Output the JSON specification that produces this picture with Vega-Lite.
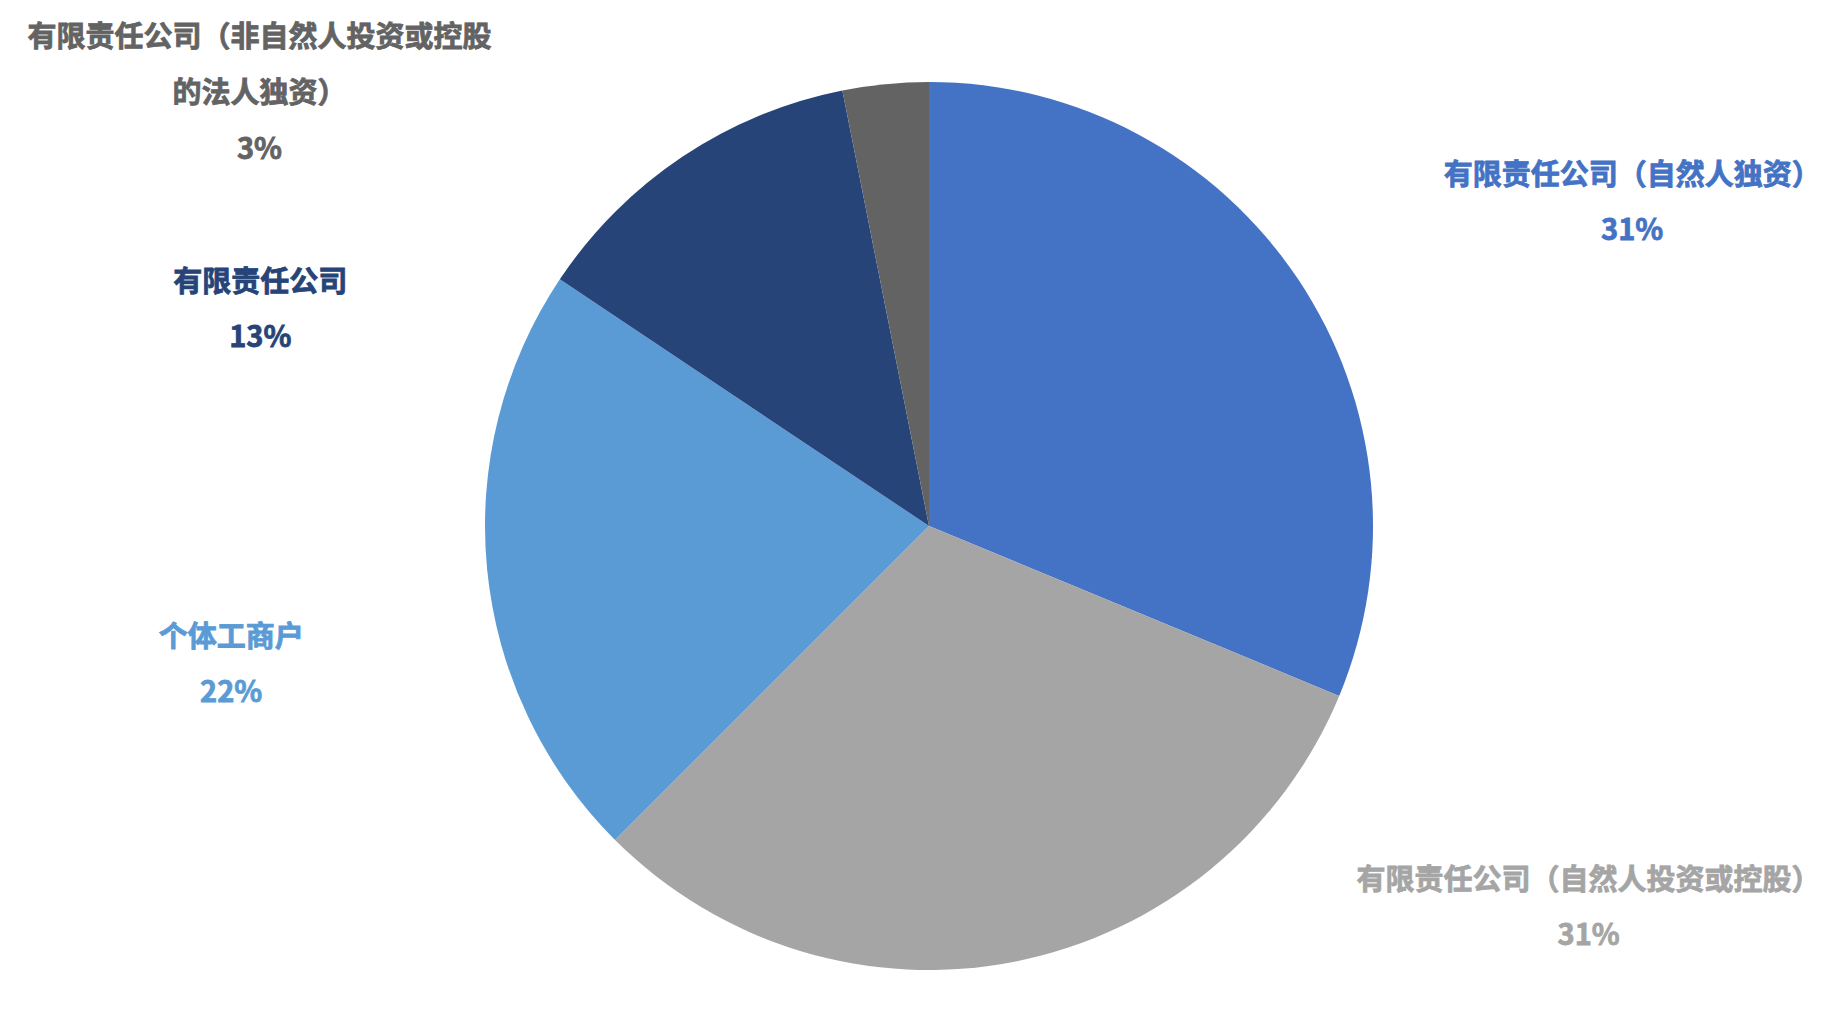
{
  "$schema": "https://vega.github.io/schema/vega-lite/v6.json",
  "width": 1806,
  "height": 980,
  "autosize": "none",
  "padding": {"left": 26, "top": 36, "right": 0, "bottom": 0},
  "background": "white",
  "config": {
    "view": {"stroke": null},
    "text": {"font": "Noto Sans CJK SC", "fontSize": 29, "fontWeight": "bold", "strokeWidth": 0.8}
  },
  "data": {
    "values": [
      {"seq": 1, "type": "有限责任公司（自然人独资）", "count": 10, "label": "有限责任公司（自然人独资）\n31%"},
      {"seq": 2, "type": "有限责任公司（自然人投资或控股）", "count": 10, "label": "有限责任公司（自然人投资或控股）\n31%"},
      {"seq": 3, "type": "个体工商户", "count": 7, "label": "个体工商户\n22%"},
      {"seq": 4, "type": "有限责任公司", "count": 4, "label": "有限责任公司\n13%"},
      {"seq": 5, "type": "有限责任公司（非自然人投资或控股的法人独资）", "count": 1, "label": "有限责任公司（非自然人投资或控股\n的法人独资）\n3%"}
    ]
  },
  "encoding": {
    "theta": {"field": "count", "type": "quantitative", "stack": true},
    "order": {"field": "seq", "type": "quantitative"},
    "color": {
      "field": "type",
      "type": "nominal",
      "legend": null,
      "scale": {
        "domain": [
          "有限责任公司（自然人独资）",
          "有限责任公司（自然人投资或控股）",
          "个体工商户",
          "有限责任公司",
          "有限责任公司（非自然人投资或控股的法人独资）"
        ],
        "range": ["#4472C4", "#A5A5A5", "#5B9BD5", "#264478", "#636363"]
      }
    }
  },
  "layer": [
    {"mark": {"type": "arc", "outerRadius": 444}},
    {
      "mark": {"type": "text", "radius": 444, "dx": 334, "dy": -103, "align": "center", "baseline": "middle", "lineBreak": "\n", "lineHeight": 55},
      "encoding": {
        "text": {"condition": {"test": "datum.seq == 1", "field": "label"}, "value": ""},
        "stroke": {"value": "#4472C4"}
      }
    },
    {
      "mark": {"type": "text", "radius": 444, "dx": 573, "dy": -80, "align": "center", "baseline": "middle", "lineBreak": "\n", "lineHeight": 55},
      "encoding": {
        "text": {"condition": {"test": "datum.seq == 2", "field": "label"}, "value": ""},
        "stroke": {"value": "#A5A5A5"}
      }
    },
    {
      "mark": {"type": "text", "radius": 444, "dx": -256, "dy": 68, "align": "center", "baseline": "middle", "lineBreak": "\n", "lineHeight": 55},
      "encoding": {
        "text": {"condition": {"test": "datum.seq == 3", "field": "label"}, "value": ""},
        "stroke": {"value": "#5B9BD5"}
      }
    },
    {
      "mark": {"type": "text", "radius": 444, "dx": -422, "dy": 126, "align": "center", "baseline": "middle", "lineBreak": "\n", "lineHeight": 55},
      "encoding": {
        "text": {"condition": {"test": "datum.seq == 4", "field": "label"}, "value": ""},
        "stroke": {"value": "#264478"}
      }
    },
    {
      "mark": {"type": "text", "radius": 444, "dx": -626, "dy": -46, "align": "center", "baseline": "middle", "lineBreak": "\n", "lineHeight": 56},
      "encoding": {
        "text": {"condition": {"test": "datum.seq == 5", "field": "label"}, "value": ""},
        "stroke": {"value": "#636363"}
      }
    }
  ]
}
